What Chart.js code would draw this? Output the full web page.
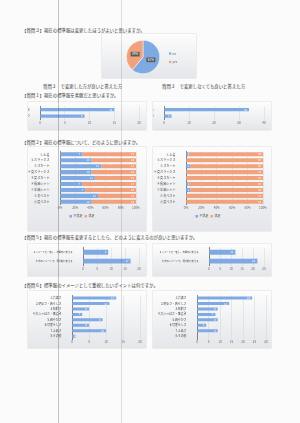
<!DOCTYPE html>
<html>
<head>
<meta charset="utf-8">
<script src="https://cdn.jsdelivr.net/npm/chart.js@4/dist/chart.umd.min.js"></script>
<style>
body { margin: 0; width: 300px; height: 423px; background: #fbfbfb; position: relative; overflow: hidden; font-family: "Noto Sans CJK JP", sans-serif; }
.t { position: absolute; font-size: 4.4px; line-height: 5px; color: #3a3a3a; white-space: nowrap; }
.box { position: absolute; background: linear-gradient(#fdfdfd, #e4e6ea); box-shadow: 0 0 0 0.5px #dcdcdc; }
.scan { position: absolute; top: 0; width: 1px; height: 423px; }
</style>
</head>
<body>

<div class="t" style="left:22px;top:28px">【質問３】現在の標準服は変更したほうがよいと思いますか。</div>
<div class="box" style="left:102px;top:34px;width:94px;height:44px"><canvas id="q3"></canvas></div>
<div class="t" style="left:43px;top:84px">質問３　で変更した方が良いと答えた方</div>
<div class="t" style="left:162px;top:84px">質問３　で変更しなくても良いと答えた方</div>

<div class="t" style="left:22px;top:93px">【質問１】現在の標準服を素敵だと思いますか。</div>
<div class="box" style="left:28px;top:102px;width:118px;height:28px"><canvas id="q1a"></canvas></div>
<div class="box" style="left:153px;top:102px;width:118px;height:28px"><canvas id="q1b"></canvas></div>

<div class="t" style="left:22px;top:139.5px">【質問２】現在の標準服について、どのように思いますか。</div>
<div class="box" style="left:28px;top:147px;width:118px;height:84px"><canvas id="q2a"></canvas></div>
<div class="box" style="left:153px;top:147px;width:118px;height:84px"><canvas id="q2b"></canvas></div>

<div class="t" style="left:22px;top:235px">【質問５】現在の標準服を変更するとしたら、どのように変えるのが良いと思いますか。</div>
<div class="box" style="left:28px;top:244px;width:118px;height:32px"><canvas id="q5a"></canvas></div>
<div class="box" style="left:153px;top:244px;width:118px;height:32px"><canvas id="q5b"></canvas></div>

<div class="t" style="left:22px;top:282.5px">【質問６】標準服のイメージとして重視したいポイントは何ですか。</div>
<div class="box" style="left:28px;top:291px;width:118px;height:57px"><canvas id="q6a"></canvas></div>
<div class="box" style="left:153px;top:291px;width:118px;height:57px"><canvas id="q6b"></canvas></div>

<!-- scanner streaks -->
<div class="scan" style="left:58px;background:rgba(90,90,90,.35)"></div>
<div class="scan" style="left:121px;background:rgba(90,90,90,.18)"></div>

<script>
// colours
const Blue = "#7ea9e3"
const Orange = "#f1a27d"
const Font = "'Noto Sans CJK JP', sans-serif"

// 質問3 pie
const q3Labels = ["no", "yes"]
const q3Values = [61, 39]

// 質問1
const q1Labels = ["YES", "NO"]
const q1Changed = [15, 9]
const q1Keep = [34, 3]

// 質問2 (counts, 24 and 37 answers)
const q2Labels = ["①上着", "②スラックス", "③スカート", "④夏スラックス", "⑤夏スカート", "⑥長袖シャツ", "⑦半袖シャツ", "⑧冬ベスト", "⑨夏ベスト"]
const q2ChangedBad = [7, 10, 13, 10, 11, 7, 8, 12, 10]
const q2ChangedGood = [17, 14, 11, 14, 13, 17, 16, 12, 14]
const q2KeepBad = [1, 0, 2, 0, 0, 1, 2, 0, 0]
const q2KeepGood = [36, 37, 35, 37, 37, 36, 35, 37, 37]
const q2ChangedTotal = 24
const q2KeepTotal = 37

// 質問5
const q5Labels = ["a.イメージを一新し、今風のに変える", "b.今のイメージで、現代的に変える"]
const q5Changed = [9, 17]
const q5Keep = [12, 22]

// 質問6
const q6Labels = ["1.清潔さ", "2.明るさ・若々しさ", "3.知的さ", "4.大人っぽさ・落着き", "5.爽やかさ", "6.可愛らしさ", "7.上品さ", "8.その他"]
const q6Changed = [13, 11, 5, 3, 9, 5, 10, 1]
const q6Keep = [24, 14, 9, 8, 9, 4, 9, 0]

// value labels inside the bar ends
const barLabels = {
    id: "barLabels",
    afterDatasetsDraw(chart) {
        const ctx = chart.ctx
        ctx.save()
        ctx.font = `2.8px ${Font}`
        ctx.fillStyle = "#ffffff"
        ctx.textAlign = "right"
        ctx.textBaseline = "middle"
        chart.data.datasets.forEach((ds, i) => {
            chart.getDatasetMeta(i).data.forEach((bar, j) => {
                const v = ds.data[j]
                if (!v) return
                ctx.fillText(v, Math.max(bar.x - 2, bar.base + 3), bar.y)
            })
        })
        ctx.restore()
    }
}

const makeBar = (id, labels, datasets, o) => new Chart(document.getElementById(id), {
    type: "bar",
    data: { labels: labels, datasets: datasets },
    options: {
        indexAxis: "y",
        responsive: true,
        maintainAspectRatio: false,
        animation: false,
        devicePixelRatio: 1,
        datasets: { bar: { barPercentage: 1, categoryPercentage: o.cat } },
        layout: { padding: { left: 0, right: o.padR, top: o.padT, bottom: o.padB } },
        plugins: {
            tooltip: { enabled: false },
            legend: o.legend ? {
                position: "bottom",
                labels: { boxWidth: 2.5, boxHeight: 2.5, padding: 2, color: "#555", font: { size: 3, family: Font } }
            } : { display: false }
        },
        scales: {
            x: {
                min: 0, max: o.max, stacked: !!o.stacked,
                ticks: { stepSize: o.step, autoSkip: false, maxRotation: 0, color: "#666", padding: 1.5, font: { size: 3, family: Font }, callback: o.fmt },
                grid: { color: "#d4d4d4", lineWidth: 0.5, drawTicks: false },
                border: { display: false },
                afterFit: s => { s.height = o.axisH }
            },
            y: {
                stacked: !!o.stacked,
                ticks: { autoSkip: false, color: "#444", padding: 2.5, font: { size: o.yFont || 3.1, family: Font } },
                grid: { display: false },
                border: { color: "#666", width: 0.8 },
                afterFit: s => { s.width = o.axisW }
            }
        }
    },
    plugins: [barLabels]
})

const single = data => [{ data: data, backgroundColor: Blue }]
const pct = total => v => Math.round(v / total * 100) + "%"

// 質問1
makeBar("q1a", q1Labels, single(q1Changed), { max: 20, step: 5, axisW: 12, padR: 7, padT: 3.5, padB: 2.5, axisH: 8, cat: 0.5 })
makeBar("q1b", q1Labels, single(q1Keep), { max: 40, step: 10, axisW: 11, padR: 7, padT: 3.5, padB: 2.5, axisH: 8, cat: 0.5 })

// 質問2
const q2Sets = (bad, good) => [
    { label: "不満足", data: bad, backgroundColor: Blue },
    { label: "満足", data: good, backgroundColor: Orange }
]
makeBar("q2a", q2Labels, q2Sets(q2ChangedBad, q2ChangedGood), { stacked: true, max: q2ChangedTotal, step: q2ChangedTotal / 5, fmt: pct(q2ChangedTotal), axisW: 32, padR: 10, padT: 3.6, padB: 3.2, axisH: 8, cat: 0.68, legend: true })
makeBar("q2b", q2Labels, q2Sets(q2KeepBad, q2KeepGood), { stacked: true, max: q2KeepTotal, step: q2KeepTotal / 5, fmt: pct(q2KeepTotal), axisW: 33, padR: 8, padT: 3.6, padB: 3.2, axisH: 8, cat: 0.68, legend: true })

// 質問5
makeBar("q5a", q5Labels, single(q5Changed), { max: 20, step: 5, axisW: 55, padR: 7, padT: 3.5, padB: 3.5, axisH: 7, cat: 0.55, yFont: 2.3 })
makeBar("q5b", q5Labels, single(q5Keep), { max: 25, step: 5, axisW: 56, padR: 7, padT: 3.5, padB: 3.5, axisH: 7, cat: 0.55, yFont: 2.3 })

// 質問6
makeBar("q6a", q6Labels, single(q6Changed), { max: 20, step: 5, axisW: 44, padR: 6, padT: 3.2, padB: 2, axisH: 7, cat: 0.55, yFont: 2.9 })
makeBar("q6b", q6Labels, single(q6Keep), { max: 30, step: 5, axisW: 44, padR: 5, padT: 3.2, padB: 2, axisH: 7, cat: 0.55, yFont: 2.9 })

// 質問3 pie with percent boxes and legend drawn by hand
const pieExtras = {
    id: "pieExtras",
    afterDatasetsDraw(chart) {
        const ctx = chart.ctx
        const total = q3Values.reduce((a, b) => a + b, 0)
        ctx.save()
        ctx.font = `3px ${Font}`
        ctx.textAlign = "center"
        ctx.textBaseline = "middle"
        chart.getDatasetMeta(0).data.forEach((arc, i) => {
            const p = arc.tooltipPosition()
            ctx.fillStyle = "#5a5a5a"
            ctx.fillRect(p.x - 4.5, p.y - 2.3, 9, 4.6)
            ctx.fillStyle = "#ffffff"
            ctx.fillText(Math.round(q3Values[i] / total * 100) + "%", p.x, p.y)
        })
        // legend
        ctx.textAlign = "left"
        q3Labels.forEach((name, i) => {
            const y = 19.5 + i * 8.5
            ctx.fillStyle = i === 0 ? Blue : Orange
            ctx.fillRect(67, y - 1.1, 2.2, 2.2)
            ctx.fillStyle = "#666"
            ctx.fillText(name, 70.5, y)
        })
        ctx.restore()
    }
}

new Chart(document.getElementById("q3"), {
    type: "pie",
    data: {
        labels: q3Labels,
        datasets: [{ data: q3Values, backgroundColor: [Blue, Orange], borderColor: "#ffffff", borderWidth: 0.5 }]
    },
    options: {
        responsive: true,
        maintainAspectRatio: false,
        animation: false,
        devicePixelRatio: 1,
        layout: { padding: { left: 24, right: 36, top: 6, bottom: 4 } },
        plugins: { legend: { display: false }, tooltip: { enabled: false } }
    },
    plugins: [pieExtras]
})
</script>
</body>
</html>
